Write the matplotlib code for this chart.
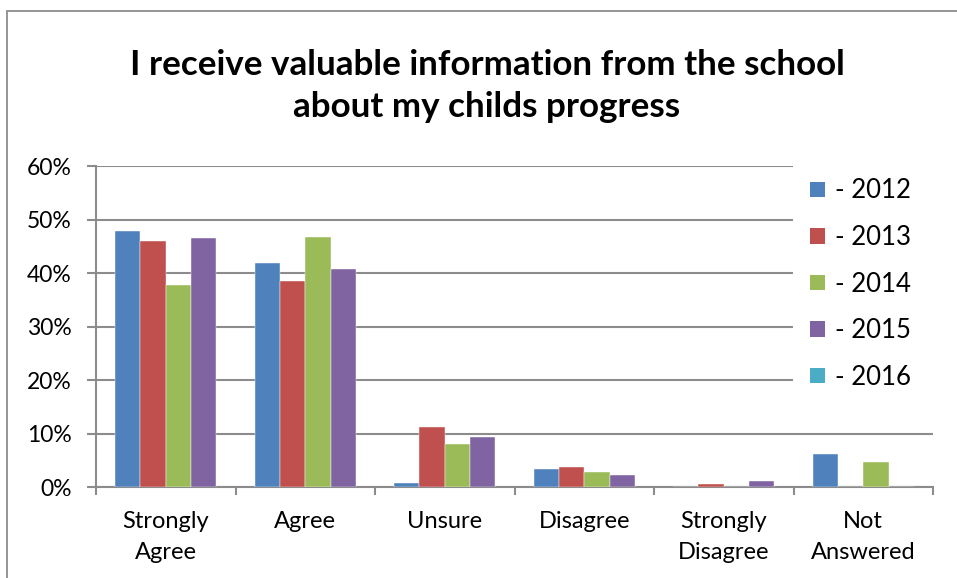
import matplotlib
matplotlib.use("Agg")
import matplotlib.pyplot as plt
from matplotlib.patches import Patch, Rectangle
from matplotlib.ticker import FuncFormatter, FixedLocator
import numpy as np

categories = ["Strongly\nAgree", "Agree", "Unsure", "Disagree", "Strongly\nDisagree", "Not\nAnswered"]
years = ["2012", "2013", "2014", "2015", "2016"]
v2012 = [47.9, 41.8, 0.8, 3.4, 0.0, 6.1]
v2013 = [46.0, 38.5, 11.2, 3.7, 0.5, 0.0]
v2014 = [37.8, 46.7, 8.1, 2.8, 0.0, 4.7]
v2015 = [46.6, 40.8, 9.3, 2.3, 1.2, 0.0]
series = [v2012, v2013, v2014, v2015]
colors = ["#4F81BD", "#C0504D", "#9BBB59", "#8064A2", "#4BACC6"]
title = "I receive valuable information from the school\nabout my childs progress"

W, H = 957, 578
DPI = 100
plt.rcParams['font.family'] = ['Lato', 'DejaVu Sans']
fig = plt.figure(figsize=(W / DPI, H / DPI), dpi=DPI)

def px(x0, y0, x1, y1):
    return [x0 / W, 1 - y1 / H, (x1 - x0) / W, (y1 - y0) / H]

grey = "#8C8C8C"
# chart border
fig.add_artist(Rectangle((7 / W, -0.5), 2, 1 - 11 / H + 0.5, transform=fig.transFigure,
                         fill=False, edgecolor=grey, lw=1.3))

ax = fig.add_axes(px(96, 166, 933, 487))
x = np.arange(len(categories))
n = len(series)
bw = 1 / (n + 1.5)
for i, vals in enumerate(series):
    ax.bar(x + (i - (n - 1) / 2) * bw, vals, bw, color=colors[i], zorder=3,
           edgecolor="white", linewidth=0.3)

ax.set_xlim(-0.5, len(categories) - 0.5)
ax.set_ylim(0, 60)
ax.set_yticks(np.arange(0, 61, 10))
ax.yaxis.set_major_formatter(FuncFormatter(lambda v, p: f"{v:.0f}%"))
ax.grid(axis="y", color=grey, lw=1.5, zorder=0)
ax.set_axisbelow(True)
ax.set_xticks(x)
ax.set_xticklabels(categories, fontsize=17, linespacing=1.55)
ax.xaxis.set_minor_locator(FixedLocator(np.arange(-0.5, len(categories), 1)))
ax.tick_params(axis="x", which="major", length=0, pad=17.5)
ax.tick_params(axis="x", which="minor", length=6, width=1.5, color=grey, direction="out")
ax.tick_params(axis="y", length=6.5, width=1.5, color=grey, labelsize=16.5, pad=11)
for s in ["top", "right"]:
    ax.spines[s].set_visible(False)
ax.spines["left"].set_color(grey)
ax.spines["bottom"].set_color(grey)
ax.spines["left"].set_linewidth(1.5)
ax.spines["bottom"].set_linewidth(1.5)

# white legend area hiding gridlines
ax.add_patch(Rectangle((4.496, 14), 2, 60, facecolor="white", edgecolor="none", zorder=1,
                       clip_on=False))

handles = [Patch(facecolor=c, edgecolor="none") for c in colors]
labels = [f"- {y}" for y in years]
fig.legend(handles, labels, loc="upper left", bbox_to_anchor=(810 / W, 1 - 178.5 / H),
           frameon=False, fontsize=18.5, labelspacing=0.84, handlelength=0.58, handleheight=0.55,
           handletextpad=0.39, borderaxespad=0, borderpad=0)

fig.text(487 / W, 1 - 86 / H, title, ha="center", va="center", fontsize=25.2,
         fontweight="bold", linespacing=1.41)

fig.savefig("out.png", dpi=DPI)
